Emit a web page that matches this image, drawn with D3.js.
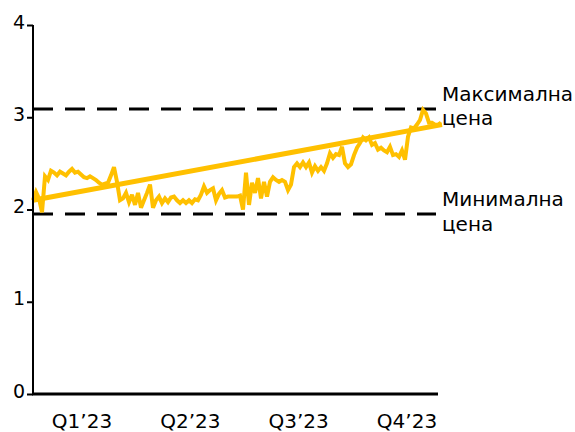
<!DOCTYPE html>
<html>
<head>
<meta charset="utf-8">
<script src="https://cdn.jsdelivr.net/npm/d3@7"></script>
<style>
  html, body { margin: 0; padding: 0; background: #fff; }
  svg { display: block; font-family: "DejaVu Sans", sans-serif; }
</style>
</head>
<body>
<svg id="chart" width="575" height="432"></svg>
<script>
// ---- data ----
const quarters = ["Q1’23", "Q2’23", "Q3’23", "Q4’23"];
const yTicks = [0, 1, 2, 3, 4];
const priceValues = [
  2.10, 2.19, 2.12, 1.97, 2.36, 2.32, 2.42, 2.40, 2.37, 2.41,
  2.39, 2.37, 2.41, 2.44, 2.40, 2.41, 2.38, 2.35, 2.34, 2.36,
  2.34, 2.32, 2.29, 2.27, 2.28, 2.29, 2.37, 2.46, 2.30, 2.10,
  2.12, 2.18, 2.08, 2.16, 2.05, 2.18, 2.02, 2.10, 2.18, 2.27,
  2.02, 2.10, 2.14, 2.07, 2.12, 2.08, 2.13, 2.14, 2.10, 2.07,
  2.10, 2.07, 2.10, 2.07, 2.11, 2.10, 2.16, 2.25, 2.18, 2.21,
  2.23, 2.10, 2.17, 2.21, 2.13, 2.14, 2.14, 2.14, 2.14, 2.15,
  2.00, 2.40, 2.05, 2.29, 2.18, 2.34, 2.12, 2.30, 2.14, 2.30,
  2.35, 2.32, 2.30, 2.32, 2.30, 2.21, 2.27, 2.46, 2.50, 2.46,
  2.51, 2.46, 2.51, 2.40, 2.47, 2.42, 2.46, 2.42, 2.50, 2.61,
  2.56, 2.60, 2.59, 2.68, 2.50, 2.46, 2.49, 2.59, 2.67, 2.72,
  2.78, 2.75, 2.78, 2.70, 2.72, 2.65, 2.67, 2.64, 2.62, 2.68,
  2.59, 2.60, 2.57, 2.64, 2.54, 2.79, 2.89, 2.88, 2.92, 2.97,
  3.08, 3.04, 2.94, 2.94, 2.92, 2.92, 2.94
];
const trendValues = [2.10, 2.92];
const maxPrice = 3.09;
const minPrice = 1.95;
const refLabels = [["Максимална", "цена"], ["Минимална", "цена"]];

// ---- layout ----
const svg = d3.select("#chart");
const mLeft = 33, mRight = 441, mTop = 25, mBottom = 394;

const x = d3.scaleLinear().domain([0, priceValues.length - 1]).range([mLeft, mRight]);
const y = d3.scaleLinear().domain([0, 4]).range([mBottom, mTop]);
const xq = d3.scalePoint().domain(quarters).range([82, 407]);

// reference dashed lines
const refs = [maxPrice, minPrice];
svg.selectAll("line.ref").data(refs).enter().append("line")
  .attr("class", "ref")
  .attr("x1", mLeft).attr("x2", 436)
  .attr("y1", d => y(d)).attr("y2", d => y(d))
  .attr("stroke", "#000").attr("stroke-width", 3)
  .attr("stroke-dasharray", "20,12");

// reference labels
refs.forEach((v, i) => {
  const t = svg.append("text")
    .attr("x", 442).attr("y", y(v) - 8)
    .attr("font-size", 20).attr("fill", "#000");
  t.append("tspan").attr("x", 442).text(refLabels[i][0]);
  t.append("tspan").attr("x", 442).attr("dy", 24.5).text(refLabels[i][1]);
});

// price series
const line = d3.line().x((d, i) => x(i)).y(d => y(d)).curve(d3.curveLinear);
svg.append("path").datum(priceValues)
  .attr("d", line)
  .attr("fill", "none").attr("stroke", "#FFC000")
  .attr("stroke-width", 4).attr("stroke-linejoin", "miter").attr("stroke-miterlimit", 3);

// trend line
const xt = d3.scaleLinear().domain([0, trendValues.length - 1]).range([mLeft, 442]);
svg.append("path").datum(trendValues)
  .attr("d", d3.line().x((d, i) => xt(i)).y(d => y(d)))
  .attr("fill", "none").attr("stroke", "#FFC000").attr("stroke-width", 5);

// y axis
const yAxis = d3.axisLeft(y).tickValues(yTicks).tickFormat(d3.format("d")).tickSize(6).tickPadding(2);
const gy = svg.append("g").attr("transform", `translate(${mLeft},0)`).call(yAxis);
gy.select(".domain").attr("stroke", "#000").attr("stroke-width", 2).attr("d", `M0,${mTop}V${mBottom}`);
gy.selectAll(".tick line").attr("stroke", "#000").attr("stroke-width", 2);
gy.selectAll(".tick text").attr("font-size", 19).attr("font-family", "DejaVu Sans")
  .attr("fill", "#000").attr("dy", "0.17em");

// x axis baseline
svg.append("line")
  .attr("x1", mLeft - 1).attr("x2", 438)
  .attr("y1", mBottom).attr("y2", mBottom)
  .attr("stroke", "#000").attr("stroke-width", 3);

// quarter labels
svg.selectAll("text.q").data(quarters).enter().append("text")
  .attr("class", "q")
  .attr("x", d => xq(d)).attr("y", 428)
  .attr("text-anchor", "middle").attr("font-size", 20).attr("fill", "#000")
  .text(d => d);
</script>
</body>
</html>
